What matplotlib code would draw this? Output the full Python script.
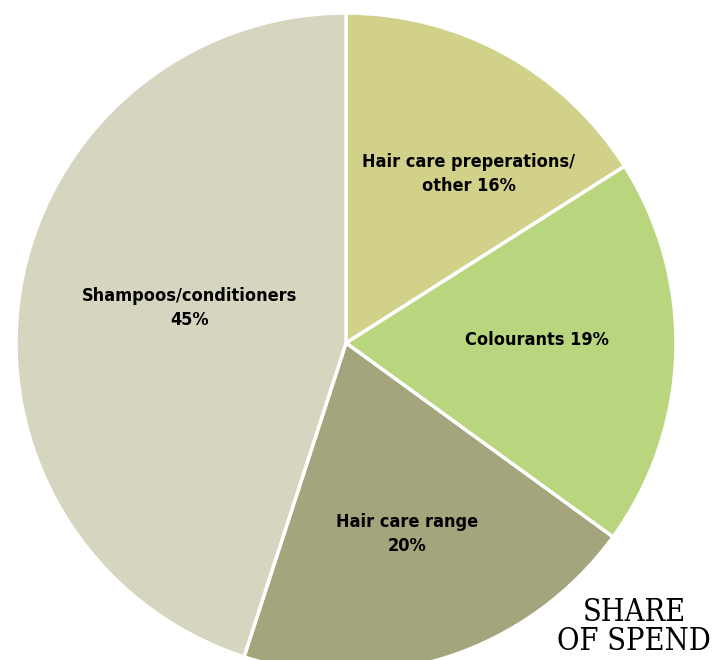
import matplotlib.pyplot as plt

categories = ['Hair care preperations/\nother 16%', 'Colourants 19%',
              'Hair care range\n20%', 'Shampoos/conditioners\n45%']
shares = [16, 19, 20, 45]
colors = ['#D1D18A', '#B9D67E', '#A4A47D', '#D6D6C0']

fig = plt.figure(figsize=(7.28, 6.6), dpi=100)
ax = fig.add_axes([0, 0, 1, 1])
ax.set_aspect('equal')
ax.axis('off')

cx, cy, r = 346, 317, 330
wedges, texts = ax.pie(shares, colors=colors, startangle=90, counterclock=False,
                       center=(cx, cy), radius=r, labels=categories,
                       wedgeprops=dict(edgecolor='white', linewidth=2.5),
                       textprops=dict(fontsize=13, fontweight='bold',
                                      family='DejaVu Sans', stretch='condensed',
                                      ha='center', va='center',
                                      multialignment='center', linespacing=1.4))
ax.set_xlim(0, 728)
ax.set_ylim(0, 660)

# label positions (pixel offsets from centre)
offsets = [(123, 169), (191, 3), (61, -191), (-156, 35)]
for t, (dx, dy) in zip(texts, offsets):
    t.set_position((cx + dx, cy + dy))
    t.set_ha('center')

fig.text(634 / 728, 1 - 627 / 660, 'SHARE\nOF SPEND', ha='center', va='center',
         fontsize=22, family='DejaVu Serif', stretch='condensed', linespacing=0.95)

fig.savefig('out.png', dpi=100)
